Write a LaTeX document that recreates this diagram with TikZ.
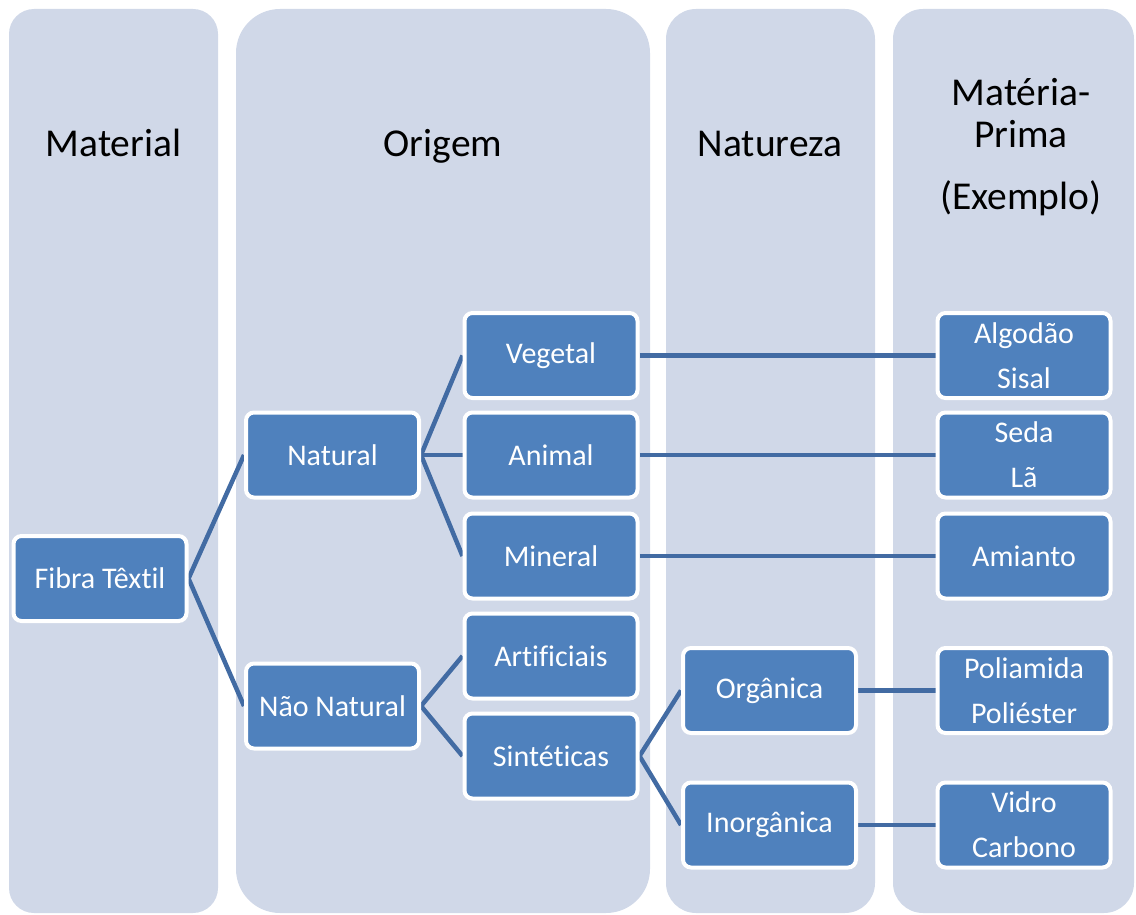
\documentclass[tikz,border=0pt]{standalone}
\usepackage{fontspec}
\setmainfont{Carlito}[Ligatures=NoCommon]
\definecolor{colfill}{RGB}{208,216,232}
\definecolor{boxfill}{RGB}{79,129,189}
\definecolor{linkcol}{RGB}{66,107,163}
\pgfdeclarelayer{columns}
\pgfdeclarelayer{links}
\pgfsetlayers{columns,links,main}
\tikzset{
  column/.style={fill=colfill},
  header/.style={font=\fontsize{39.5}{42}\selectfont, align=center, inner sep=0pt, anchor=base},
  item/.style={fill=boxfill, draw=white, line width=4pt, rounded corners=8pt,
    minimum width=173pt, minimum height=85pt, inner sep=0pt, text=white,
    align=center, font=\fontsize{30}{45}\selectfont},
  link/.style={draw=linkcol, line width=4.5pt}
}
\begin{document}
\begin{tikzpicture}[x=1pt,y=-1pt]
\useasboundingbox (0,0) rectangle (1136,915);

% background columns
\begin{pgfonlayer}{columns}
  \fill[column, rounded corners=25pt] (9,9) rectangle (218,913);
  \fill[column, rounded corners=44pt] (236,9) rectangle (650,913);
  \fill[column, rounded corners=30pt] (666,9) rectangle (875,913);
  \fill[column, rounded corners=30pt] (893,9) rectangle (1134,913);
\end{pgfonlayer}

% column headings
\node[header] (hmat) at (113.5,157) {Material};
\node[header] (hori) at (443,157) {Origem};
\node[header] (hnat) at (770,157) {Natureza};
\node[header] (hmp) at (1021,209) {Matéria-\\Prima\\[20pt](Exemplo)};

% boxes
\node[item] (fibra) at (100,578.5) {Fibra Têxtil};
\node[item] (natural) at (332.5,455) {Natural};
\node[item] (naonat) at (332.5,706) {Não Natural};
\node[item] (vegetal) at (551,355.5) {Vegetal};
\node[item] (animal) at (551,455) {Animal};
\node[item] (mineral) at (551,556) {Mineral};
\node[item] (artif) at (551,656) {Artificiais};
\node[item] (sint) at (551,756) {Sintéticas};
\node[item] (organ) at (769.5,690.5) {Orgânica};
\node[item] (inorg) at (769.5,825) {Inorgânica};
\node[item] (algodao) at (1024,355.5) {Algodão\\Sisal};
\node[item] (seda) at (1024,455) {Seda\\Lã};
\node[item] (amianto) at (1024,556) {Amianto};
\node[item] (poliam) at (1024,690.5) {Poliamida\\Poliéster};
\node[item] (vidro) at (1024,825) {Vidro\\Carbono};

% connectors
\begin{pgfonlayer}{links}
  \draw[link] (fibra.east) -- (natural.west);
  \draw[link] (fibra.east) -- (naonat.west);
  \draw[link] (natural.east) -- (vegetal.west);
  \draw[link] (natural.east) -- (animal.west);
  \draw[link] (natural.east) -- (mineral.west);
  \draw[link] (naonat.east) -- (artif.west);
  \draw[link] (naonat.east) -- (sint.west);
  \draw[link] (sint.east) -- (organ.west);
  \draw[link] (sint.east) -- (inorg.west);
  \draw[link] (vegetal.east) -- (algodao.west);
  \draw[link] (animal.east) -- (seda.west);
  \draw[link] (mineral.east) -- (amianto.west);
  \draw[link] (organ.east) -- (poliam.west);
  \draw[link] (inorg.east) -- (vidro.west);
\end{pgfonlayer}
\end{tikzpicture}
\end{document}
